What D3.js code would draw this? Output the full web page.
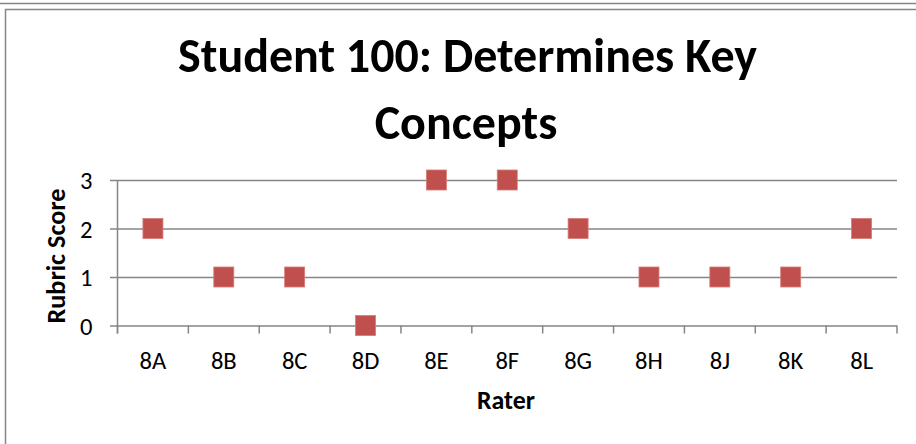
<!DOCTYPE html>
<html>
<head>
<meta charset="utf-8">
<script src="https://cdn.jsdelivr.net/npm/d3@7"></script>
<style>
  html, body { margin: 0; padding: 0; background: #fff; }
  svg { display: block; }
  text { font-family: Carlito, Calibri, Lato, "Open Sans", sans-serif; fill: #000; }
</style>
</head>
<body>
<svg id="chart" width="916" height="444"></svg>
<script>
const raters = ["8A", "8B", "8C", "8D", "8E", "8F", "8G", "8H", "8J", "8K", "8L"];
const scores = [2, 1, 1, 0, 3, 3, 2, 1, 1, 1, 2];
const yTicks = [0, 1, 2, 3];
const titleLines = ["Student 100: Determines Key", "Concepts"];
const xTitle = "Rater";
const yTitle = "Rubric Score";

const svg = d3.select("#chart");
const W = 916, H = 444;
const plot = { left: 117.5, right: 897, top: 180, bottom: 325.5 };
const gridColor = "#868686";
const markColor = "#c0504d";

function fitText(sel, targetW) {
  const w = sel.node().getComputedTextLength();
  const fs = parseFloat(sel.attr("font-size"));
  sel.attr("font-size", fs * targetW / w);
}

// measure tick font size so that "8A" is ~26.7px wide
const probe = svg.append("text").attr("font-size", 24).text(raters[0]);
fitText(probe, 26.7);
const tickFont = parseFloat(probe.attr("font-size"));
probe.remove();

// outer frames
svg.append("line").attr("x1", 0).attr("x2", W).attr("y1", 3.5).attr("y2", 3.5)
  .attr("stroke", gridColor).attr("stroke-width", 1.5);
svg.append("rect").attr("x", 5.5).attr("y", 9.5).attr("width", W + 20).attr("height", H + 20)
  .attr("fill", "none").attr("stroke", gridColor).attr("stroke-width", 1.5);

const x = d3.scaleBand().domain(raters).range([plot.left, plot.right]).padding(0);
const y = d3.scaleLinear().domain([0, 3]).range([plot.bottom, plot.top]);

// gridlines + y ticks
const yAxis = d3.axisLeft(y).tickValues(yTicks).tickFormat(d3.format("d"))
  .tickSizeInner(-(plot.right - plot.left)).tickSizeOuter(0).tickPadding(25);
const gy = svg.append("g").attr("transform", `translate(${plot.left},0)`).call(yAxis);
gy.select(".domain").remove();
gy.selectAll(".tick line").attr("stroke", gridColor).attr("stroke-width", 1.5).attr("x1", -7.5);
gy.selectAll(".tick text").attr("font-size", tickFont).attr("fill", "#000").attr("dy", "0.35em");

// y axis line
svg.append("line").attr("x1", plot.left).attr("x2", plot.left)
  .attr("y1", plot.top).attr("y2", plot.bottom + 8)
  .attr("stroke", gridColor).attr("stroke-width", 1.5);

// x axis labels
const xAxis = d3.axisBottom(x).tickSize(0);
const gx = svg.append("g").attr("transform", `translate(0,${plot.bottom})`).call(xAxis);
gx.select(".domain").remove();
gx.selectAll(".tick text").attr("font-size", tickFont).attr("fill", "#000")
  .attr("y", 43).attr("dy", 0);

// x boundary ticks
const bounds = raters.map(r => x(r)).concat([x(raters[raters.length - 1]) + x.bandwidth()]);
svg.append("g").selectAll("line").data(bounds).join("line")
  .attr("x1", d => d).attr("x2", d => d)
  .attr("y1", plot.bottom).attr("y2", plot.bottom + 8)
  .attr("stroke", gridColor).attr("stroke-width", 1.5);

// markers
const ms = 20;
svg.append("g").selectAll("rect").data(raters.map((r, i) => ({ r, v: scores[i] }))).join("rect")
  .attr("x", d => x(d.r) + x.bandwidth() / 2 - ms / 2)
  .attr("y", d => y(d.v) - ms / 2)
  .attr("width", ms).attr("height", ms)
  .attr("fill", markColor)
  .attr("stroke", "#d77b78").attr("stroke-width", 0.8);

// title
const t1 = svg.append("text").attr("x", 467.5).attr("y", 71.5).attr("text-anchor", "middle")
  .attr("font-weight", "bold").attr("font-size", 38).text(titleLines[0]);
fitText(t1, 579);
svg.append("text").attr("x", 466).attr("y", 138.5).attr("text-anchor", "middle")
  .attr("font-weight", "bold").attr("font-size", t1.attr("font-size")).text(titleLines[1]);

// axis titles
const xt = svg.append("text").attr("x", 506).attr("y", 409).attr("text-anchor", "middle")
  .attr("font-weight", "bold").attr("font-size", 24).text(xTitle);
fitText(xt, 58);
const yt = svg.append("text").attr("transform", "translate(65,256) rotate(-90)").attr("text-anchor", "middle")
  .attr("font-weight", "bold").attr("font-size", 24).text(yTitle);
fitText(yt, 135);
</script>
</body>
</html>
